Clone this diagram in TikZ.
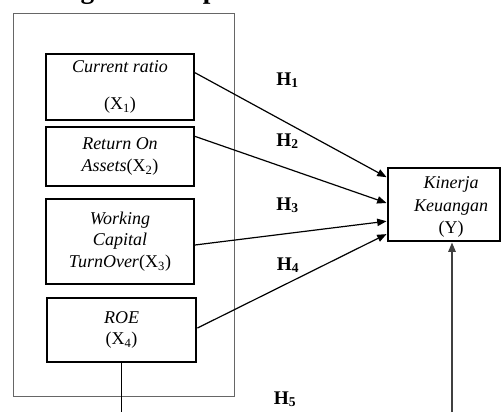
\documentclass[tikz,border=0pt]{standalone}
\usepackage{fontspec}
\setmainfont{Liberation Serif}
\usetikzlibrary{arrows.meta,calc}
\begin{document}
\begin{tikzpicture}[x=0.75pt,y=-0.75pt,
  box/.style={draw, line width=1.5pt, align=center, inner sep=0pt, minimum width=111pt,
    font=\fontsize{13.5}{16}\selectfont},
  hlab/.style={font=\fontsize{14.5}{16}\selectfont\bfseries, inner sep=0pt, anchor=base},
  link/.style={line width=0.9pt, -{Triangle[length=7pt,width=5.5pt]}},
  frame/.style={draw=black!60, line width=0.7pt},
]
\clip (0,0) rectangle (503,412);
% cropped title (only descenders visible)
\node[anchor=base west, font=\fontsize{20.5}{24}\selectfont\bfseries, inner sep=0pt] (title) at (6,-1.8) {Kerangka Konseptual};
% frame
\draw[frame] (13,13) rectangle (234,396);
% boxes
\node[box, minimum height=49.5pt] (x1) at (120,87) {\textit{Current ratio}\\[12pt](X\textsubscript{1})};
\node[box, minimum height=44.25pt] (x2) at (120,156.5) {\textit{Return On}\\\textit{Assets}(X\textsubscript{2})};
\node[box, minimum height=63.75pt] (x3) at (120,241.5) {\textit{Working}\\\textit{Capital}\\\textit{TurnOver}(X\textsubscript{3})};
\node[box, line width=2.2pt, minimum width=111.75pt, minimum height=48pt] (x4) at (121.5,330) {\textit{ROE}\\(X\textsubscript{4})};
\node[box, line width=2.2pt, minimum width=84pt, minimum height=54.75pt] (y) at (444,204.5) {};
\node[align=center, inner sep=0pt, font=\fontsize{13.5}{17}\selectfont] (ytext) at (451,207) {\textit{Kinerja}\\\textit{Keuangan}\\(Y)};
% labels
\node[hlab] (h1) at (287.5,85) {H\textsubscript{1}};
\node[hlab] (h2) at (287.5,146) {H\textsubscript{2}};
\node[hlab] (h3) at (287.5,210) {H\textsubscript{3}};
\node[hlab] (h4) at (288,270) {H\textsubscript{4}};
\node[hlab] (h5) at (285,404) {H\textsubscript{5}};
% arrows
\draw[link] ($(x1.north east)!0.29!(x1.south east)$) -- ($(y.north west)!0.14!(y.south west)$);
\draw[link] ($(x2.north east)!0.17!(x2.south east)$) -- ($(y.north west)!0.48!(y.south west)$);
\draw[link] ($(x3.north east)!0.54!(x3.south east)$) -- ($(y.north west)!0.72!(y.south west)$);
\draw[link] ($(x4.north east)!0.47!(x4.south east)$) -- ($(y.north west)!0.89!(y.south west)$);
% bottom lines
\coordinate (xb) at (122,412);
\coordinate (yb) at (452,412);
\draw[line width=1pt] (x4.south) -- (x4.south |- xb);
\draw[link, draw=black!75, line width=1.2pt] (yb) -- (yb |- y.south);
\end{tikzpicture}
\end{document}
